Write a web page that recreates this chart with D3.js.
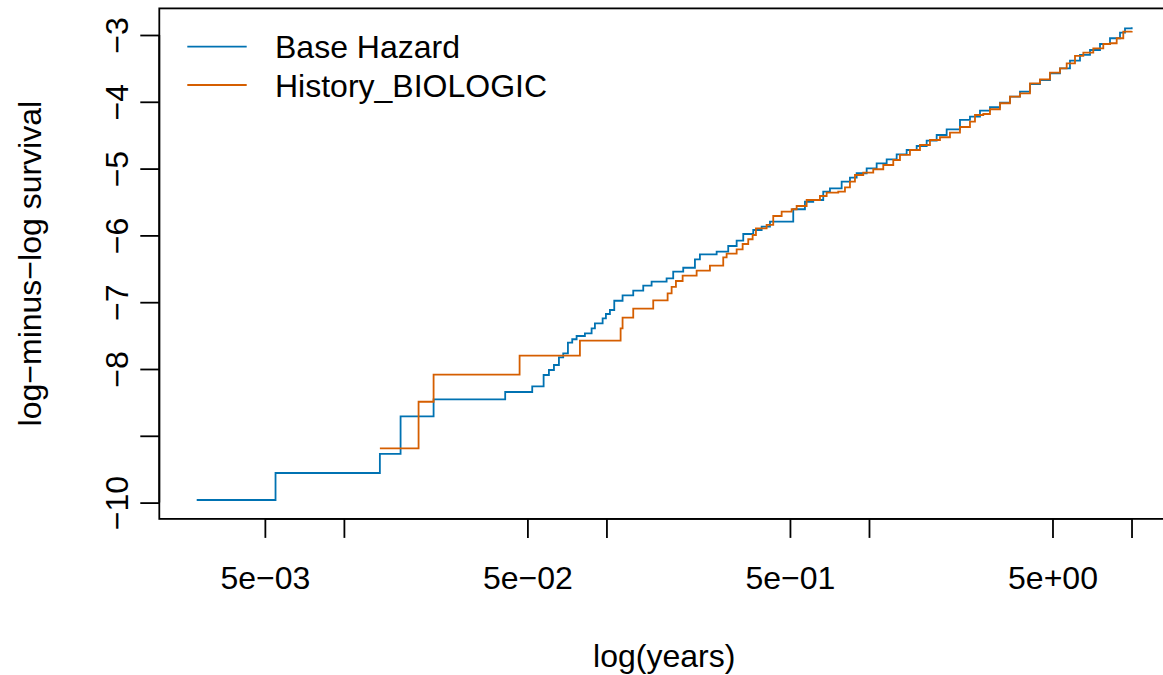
<!DOCTYPE html>
<html>
<head>
<meta charset="utf-8">
<script src="https://cdn.jsdelivr.net/npm/d3@7"></script>
<style>
  html, body { margin: 0; padding: 0; background: #fff; }
  text { font-family: "Liberation Sans", Arial, sans-serif; fill: #000; }
</style>
</head>
<body>
<div id="chart"></div>
<script>
// Base Hazard curve: time (years) and log-minus-log survival
const baseTime = [0.00275, 0.00549, 0.01371, 0.01644, 0.02196, 0.04115, 0.05216, 0.05764, 0.06038, 0.0631,
  0.06592, 0.06845, 0.07134, 0.07408, 0.07698, 0.08279, 0.0878, 0.09039, 0.09672, 0.09954,
  0.1031, 0.1071, 0.1152, 0.1265, 0.1381, 0.1486, 0.1695, 0.1796, 0.1961, 0.2173,
  0.227, 0.2629, 0.291, 0.3133, 0.332, 0.3624, 0.3901, 0.4196, 0.5147, 0.5703,
  0.6134, 0.6696, 0.7101, 0.7869, 0.8463, 0.8976, 0.9799, 1.0697, 1.1679, 1.2748,
  1.3916, 1.5194, 1.6586, 1.8106, 1.9766, 2.2212, 2.4248, 2.6472, 2.8898, 3.155,
  3.4441, 3.7598, 4.1045, 4.4807, 4.8916, 5.34, 5.829, 6.364, 6.9475, 7.5844,
  8.2798, 9.0388, 9.444, 10.016];
const baseValue = [-9.961, -9.557, -9.272, -8.708, -8.454, -8.344, -8.259, -8.090, -8.015, -7.940,
  -7.825, -7.765, -7.606, -7.555, -7.506, -7.466, -7.391, -7.316, -7.241, -7.177,
  -7.117, -6.978, -6.897, -6.828, -6.753, -6.693, -6.642, -6.543, -6.484, -6.358,
  -6.283, -6.244, -6.159, -6.079, -5.979, -5.919, -5.870, -5.795, -5.609, -5.496,
  -5.470, -5.346, -5.295, -5.196, -5.136, -5.070, -4.996, -4.921, -4.861, -4.786,
  -4.722, -4.662, -4.582, -4.497, -4.412, -4.272, -4.223, -4.133, -4.082, -4.013,
  -3.924, -3.849, -3.734, -3.674, -3.573, -3.499, -3.385, -3.299, -3.225, -3.135,
  -3.049, -2.966, -2.900, -2.885];

// History_BIOLOGIC curve
const bioTime = [0.01371, 0.01925, 0.02196, 0.04669, 0.07925, 0.11324, 0.1152, 0.1265, 0.15074, 0.17102,
  0.17713, 0.18394, 0.19508, 0.22057, 0.24786, 0.27853, 0.28696, 0.3133, 0.3302, 0.34683,
  0.36047, 0.37107, 0.4075, 0.43187, 0.4649, 0.50752, 0.53026, 0.57888, 0.65051, 0.68989,
  0.7638, 0.81001, 0.8463, 0.88428, 0.95109, 1.0382, 1.1336, 1.2374, 1.3122, 1.4325,
  1.5639, 1.7072, 1.8638, 2.0345, 2.2212, 2.4248, 2.5336, 2.7252, 2.8898, 3.155,
  3.4441, 3.7598, 4.1045, 4.4807, 4.8916, 5.34, 5.6633, 6.0909, 6.5528, 7.1516,
  7.8071, 8.2798, 8.7808, 9.3041, 10.016];
const bioValue = [-9.187, -8.490, -8.085, -7.801, -7.576, -7.391, -7.232, -7.097, -6.972, -6.867,
  -6.772, -6.683, -6.603, -6.528, -6.454, -6.328, -6.274, -6.208, -6.129, -6.058,
  -5.994, -5.894, -5.844, -5.710, -5.645, -5.609, -5.560, -5.470, -5.410, -5.361,
  -5.346, -5.280, -5.196, -5.096, -5.061, -5.010, -4.946, -4.871, -4.796, -4.722,
  -4.647, -4.572, -4.531, -4.463, -4.377, -4.298, -4.198, -4.183, -4.112, -4.022,
  -3.924, -3.873, -3.723, -3.663, -3.564, -3.499, -3.424, -3.314, -3.265, -3.199,
  -3.135, -3.124, -3.049, -2.951, -2.940];

const seriesNames = ["Base Hazard", "History_BIOLOGIC"];
const seriesColors = ["#0072B2", "#D55E00"];

const xTickValues = [0.005, 0.01, 0.05, 0.1, 0.5, 1, 5, 10];
const xTickLabels = ["5e\u221203", "", "5e\u221202", "", "5e\u221201", "", "5e+00", ""];
const yTickValues = [-10, -9, -8, -7, -6, -5, -4, -3];
const yTickLabels = ["\u221210", "", "\u22128", "\u22127", "\u22126", "\u22125", "\u22124", "\u22123"];

const W = 1163, H = 675;
const plot = { left: 159.3, right: 1169.1, top: 8.4, bottom: 518.9 };
const fontSize = 32;

const svg = d3.select("#chart").append("svg")
  .attr("width", W)
  .attr("height", H);

// R style: data range extended by 4% each side
const allT = baseTime.concat(bioTime);
const allV = baseValue.concat(bioValue);
const lx = d3.extent(allT).map(Math.log10);
const padX = (lx[1] - lx[0]) * 0.04;
const ey = d3.extent(allV);
const padY = (ey[1] - ey[0]) * 0.04;

const x = d3.scaleLog()
  .domain([Math.pow(10, lx[0] - padX), Math.pow(10, lx[1] + padX)])
  .range([plot.left, plot.right]);
const y = d3.scaleLinear()
  .domain([ey[0] - padY, ey[1] + padY])
  .range([plot.bottom, plot.top]);

// box
svg.append("rect")
  .attr("x", plot.left)
  .attr("y", plot.top)
  .attr("width", plot.right - plot.left)
  .attr("height", plot.bottom - plot.top)
  .attr("fill", "none")
  .attr("stroke", "#000")
  .attr("stroke-width", 1.8);

// x axis
const xAxis = svg.append("g")
  .attr("transform", "translate(0," + plot.bottom + ")")
  .call(d3.axisBottom(x)
    .tickValues(xTickValues)
    .tickSize(19)
    .tickPadding(40)
    .tickFormat((d, i) => xTickLabels[i]));
xAxis.select(".domain").remove();
xAxis.selectAll("line").attr("stroke-width", 1.8);
xAxis.append("line")
  .attr("x1", x(xTickValues[0]))
  .attr("x2", x(xTickValues[xTickValues.length - 1]))
  .attr("stroke", "#000")
  .attr("stroke-width", 1.8);
xAxis.selectAll("text")
  .attr("y", 70.5)
  .attr("dy", null)
  .style("font-size", fontSize + "px")
  .style("font-family", "Liberation Sans, Arial, sans-serif");

// y axis
const yAxis = svg.append("g")
  .attr("transform", "translate(" + plot.left + ",0)")
  .call(d3.axisLeft(y)
    .tickValues(yTickValues)
    .tickSize(19)
    .tickFormat((d, i) => yTickLabels[i]));
yAxis.select(".domain").remove();
yAxis.selectAll("line").attr("stroke-width", 1.8);
yAxis.append("line")
  .attr("y1", y(yTickValues[0]))
  .attr("y2", y(yTickValues[yTickValues.length - 1]))
  .attr("stroke", "#000")
  .attr("stroke-width", 1.8);
yAxis.selectAll(".tick text")
  .attr("x", null)
  .attr("dy", null)
  .attr("text-anchor", "middle")
  .attr("transform", "translate(-31,0) rotate(-90)")
  .style("font-size", fontSize + "px")
  .style("font-family", "Liberation Sans, Arial, sans-serif");

// axis titles
svg.append("text")
  .attr("x", (plot.left + plot.right) / 2)
  .attr("y", 667)
  .attr("text-anchor", "middle")
  .style("font-size", fontSize + "px")
  .text("log(years)");

svg.append("text")
  .attr("transform", "translate(41," + (plot.top + plot.bottom) / 2 + ") rotate(-90)")
  .attr("text-anchor", "middle")
  .style("font-size", fontSize + "px")
  .text("log\u2212minus\u2212log survival");

// curves
const line = d3.line()
  .x(d => x(d[0]))
  .y(d => y(d[1]))
  .curve(d3.curveStepAfter);

const series = [
  d3.zip(baseTime, baseValue),
  d3.zip(bioTime, bioValue)
];

svg.append("g")
  .selectAll("path")
  .data(series)
  .enter()
  .append("path")
  .attr("d", d => line(d))
  .attr("fill", "none")
  .attr("stroke", (d, i) => seriesColors[i])
  .attr("stroke-width", 1.8);

// legend
const legend = svg.append("g")
  .selectAll("g")
  .data(seriesNames)
  .enter()
  .append("g")
  .attr("transform", (d, i) => "translate(0," + (46.7 + i * 38.3) + ")");

legend.append("line")
  .attr("x1", 187.3)
  .attr("x2", 246.7)
  .attr("stroke", (d, i) => seriesColors[i])
  .attr("stroke-width", 1.8);

legend.append("text")
  .attr("x", 275)
  .attr("y", 11.5)
  .style("font-size", fontSize + "px")
  .text(d => d);
</script>
</body>
</html>
